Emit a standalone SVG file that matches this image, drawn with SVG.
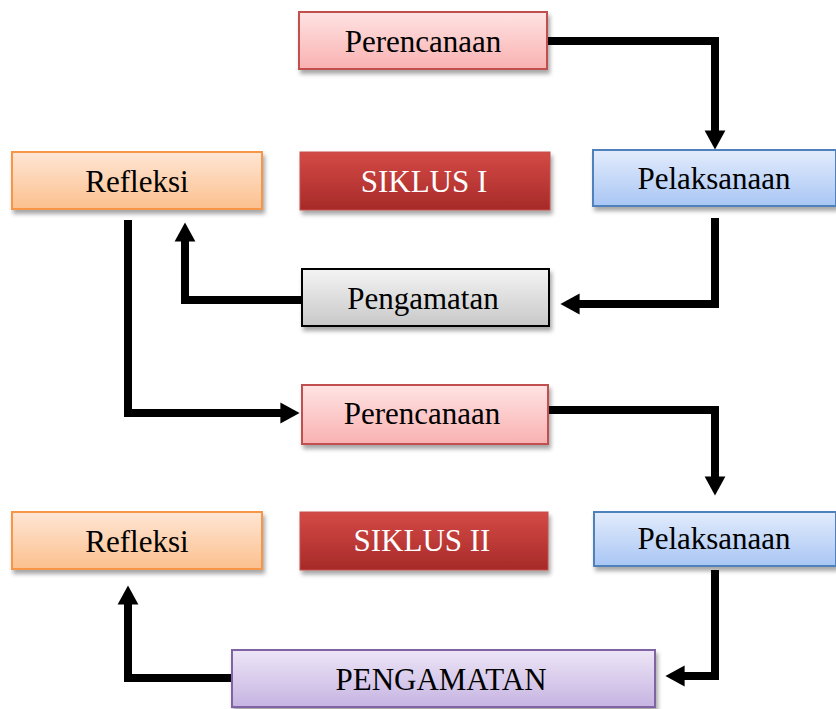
<svg xmlns="http://www.w3.org/2000/svg" width="836" height="709" viewBox="0 0 836 709">
<defs>
<linearGradient id="gPink" x1="0" y1="0" x2="0" y2="1"><stop offset="0" stop-color="#ffe3e3"/><stop offset="1" stop-color="#f9b1b1"/></linearGradient>
<linearGradient id="gOrange" x1="0" y1="0" x2="0" y2="1"><stop offset="0" stop-color="#ffe6d5"/><stop offset="1" stop-color="#fbc08e"/></linearGradient>
<linearGradient id="gRed" x1="0" y1="0" x2="0" y2="1"><stop offset="0" stop-color="#d44a46"/><stop offset="1" stop-color="#a72a28"/></linearGradient>
<linearGradient id="gBlue" x1="0" y1="0" x2="0" y2="1"><stop offset="0" stop-color="#e3ecfc"/><stop offset="1" stop-color="#a9c6f4"/></linearGradient>
<linearGradient id="gGrey" x1="0" y1="0" x2="0" y2="1"><stop offset="0" stop-color="#f4f4f4"/><stop offset="1" stop-color="#c8c8c8"/></linearGradient>
<linearGradient id="gPurple" x1="0" y1="0" x2="0" y2="1"><stop offset="0" stop-color="#ede5f6"/><stop offset="1" stop-color="#c6b4e2"/></linearGradient>
<filter id="sh" x="-5%" y="-10%" width="115%" height="140%"><feDropShadow dx="2" dy="4" stdDeviation="2" flood-color="#000" flood-opacity="0.35"/></filter>
<marker id="ah" markerWidth="2.4" markerHeight="2.6" refX="0" refY="1.3" orient="auto" markerUnits="strokeWidth" overflow="visible"><path d="M-0.2,0 L2.2,1.3 L-0.2,2.6 Z" fill="#000"/></marker>
</defs>
<style>
.lbl{font-family:"Liberation Serif","Times New Roman",serif;font-size:31px;fill:#000;text-anchor:middle;dominant-baseline:central}
.wl{fill:#fff}
.con{fill:none;stroke:#000;stroke-width:8;stroke-linejoin:miter}
</style>
<rect width="836" height="709" fill="#fff"/>
<g id="connectors">
<path class="con" d="M547,41 H715 V132" marker-end="url(#ah)"/>
<path class="con" d="M715,218 V304 H578" marker-end="url(#ah)"/>
<path class="con" d="M302,300 H185 V240" marker-end="url(#ah)"/>
<path class="con" d="M128,220 V413 H282" marker-end="url(#ah)"/>
<path class="con" d="M548,410 H715 V478" marker-end="url(#ah)"/>
<path class="con" d="M715,570 V676 H683" marker-end="url(#ah)"/>
<path class="con" d="M232,678 H128 V603" marker-end="url(#ah)"/>
</g>
<g id="perencanaan1"><rect x="299" y="12" width="248" height="57" fill="url(#gPink)" stroke="#c0504d" stroke-width="2" filter="url(#sh)"/><text class="lbl" x="423" y="41">Perencanaan</text></g>
<g id="refleksi1"><rect x="12" y="152" width="250" height="57" fill="url(#gOrange)" stroke="#f79646" stroke-width="2" filter="url(#sh)"/><text class="lbl" x="137" y="181">Refleksi</text></g>
<g id="siklus1"><rect x="300" y="152" width="250" height="58" fill="url(#gRed)" stroke="#c0504d" stroke-width="1" filter="url(#sh)"/><text class="lbl wl" x="424" y="181">SIKLUS I</text></g>
<g id="pelaksanaan1"><rect x="593" y="150" width="243" height="56" fill="url(#gBlue)" stroke="#4f81bd" stroke-width="2" filter="url(#sh)"/><text class="lbl" x="714" y="178">Pelaksanaan</text></g>
<g id="pengamatan1"><rect x="302" y="269" width="247" height="57" fill="url(#gGrey)" stroke="#000" stroke-width="2" filter="url(#sh)"/><text class="lbl" x="423" y="298">Pengamatan</text></g>
<g id="perencanaan2"><rect x="302" y="385" width="246" height="59" fill="url(#gPink)" stroke="#c0504d" stroke-width="2" filter="url(#sh)"/><text class="lbl" x="422" y="413">Perencanaan</text></g>
<g id="refleksi2"><rect x="12" y="512" width="250" height="57" fill="url(#gOrange)" stroke="#f79646" stroke-width="2" filter="url(#sh)"/><text class="lbl" x="137" y="541">Refleksi</text></g>
<g id="siklus2"><rect x="300" y="512" width="248" height="58" fill="url(#gRed)" stroke="#c0504d" stroke-width="1" filter="url(#sh)"/><text class="lbl wl" x="422" y="540">SIKLUS II</text></g>
<g id="pelaksanaan2"><rect x="594" y="512" width="242" height="54" fill="url(#gBlue)" stroke="#4f81bd" stroke-width="2" filter="url(#sh)"/><text class="lbl" x="714" y="538">Pelaksanaan</text></g>
<g id="pengamatan2"><rect x="232" y="650" width="423" height="57" fill="url(#gPurple)" stroke="#8064a2" stroke-width="2" filter="url(#sh)"/><text class="lbl" x="441" y="679">PENGAMATAN</text></g>
</svg>
